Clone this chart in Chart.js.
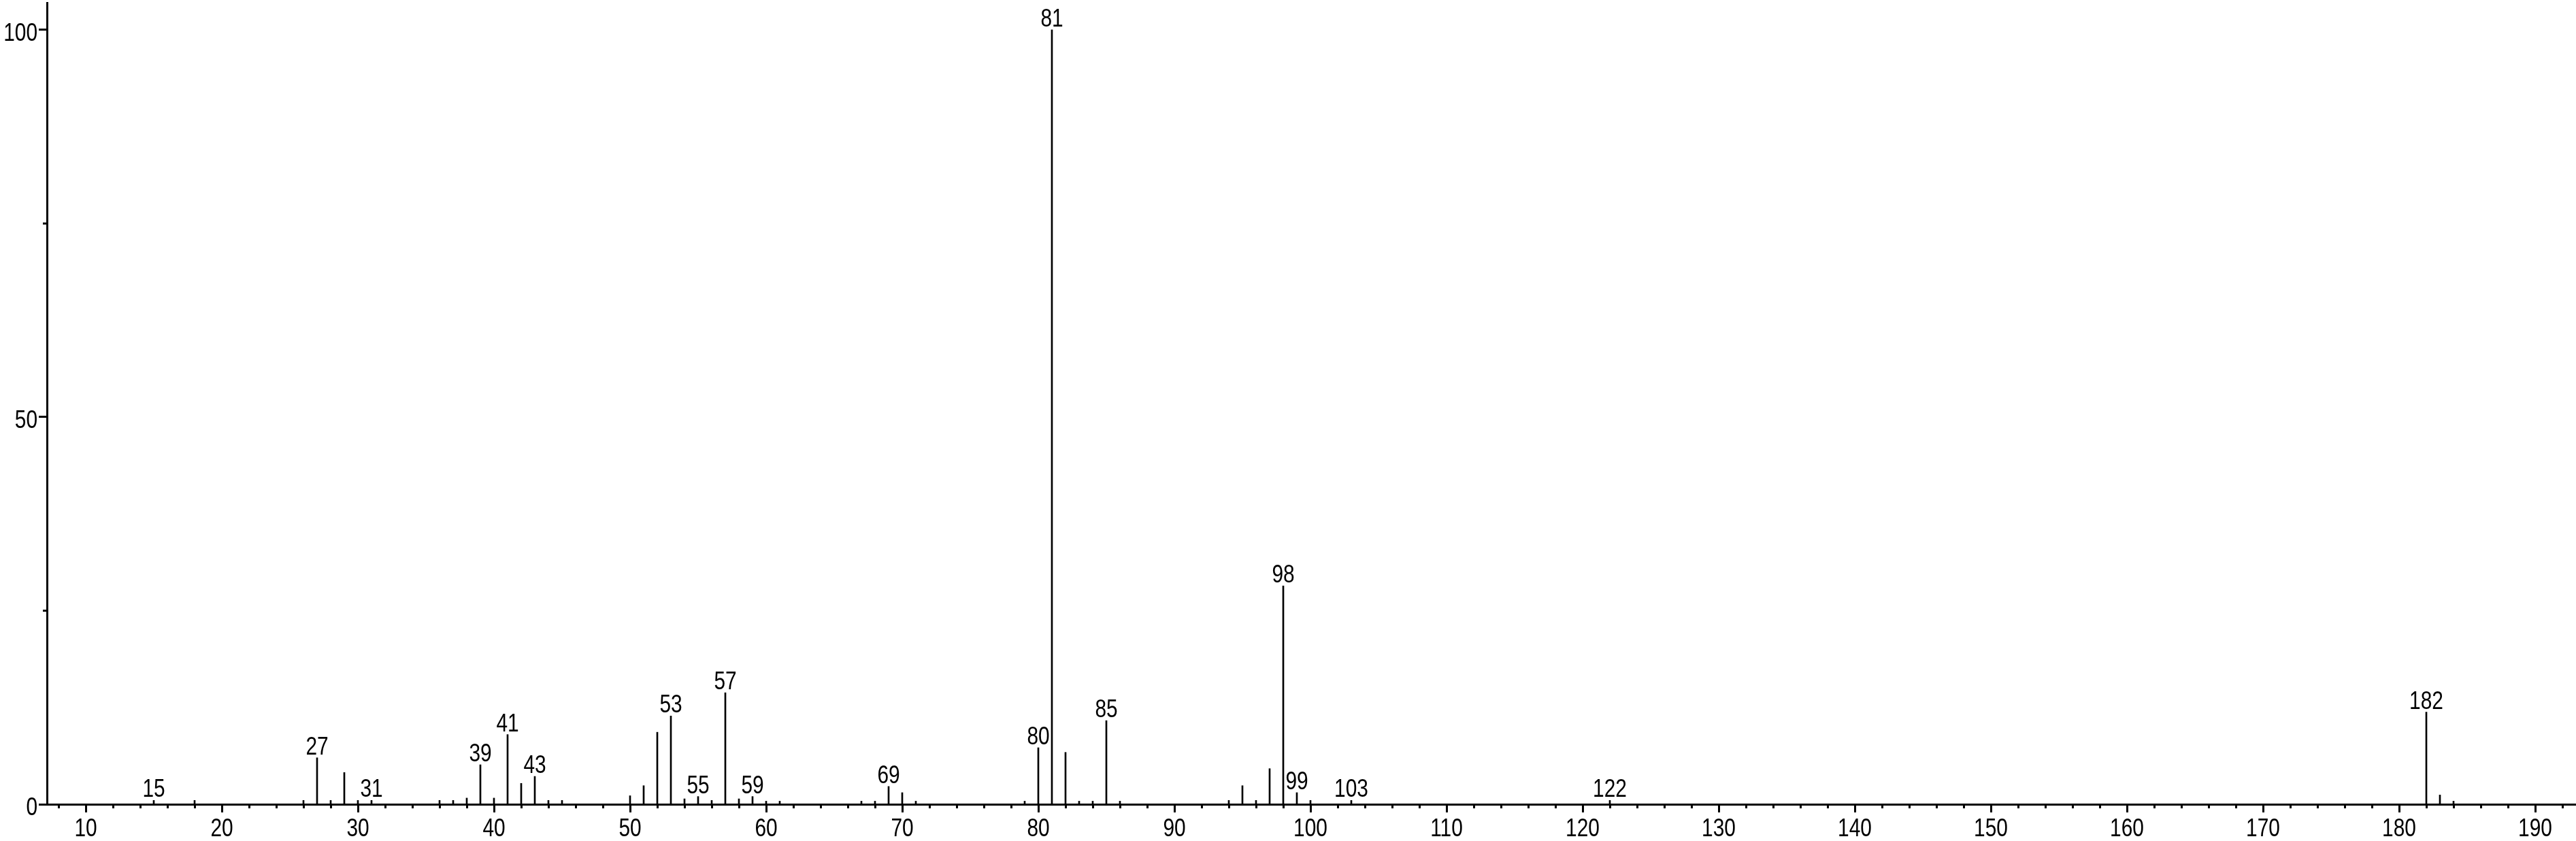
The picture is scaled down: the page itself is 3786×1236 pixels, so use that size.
<!DOCTYPE html>
<html>
<head>
<meta charset="utf-8">
<script src="https://cdn.jsdelivr.net/npm/chart.js@4/dist/chart.umd.min.js"></script>
<style>
  html, body { margin: 0; padding: 0; background: #fff; }
  canvas { display: block; }
</style>
</head>
<body>
<canvas id="c" width="3786" height="1236" style="width:3786px;height:1236px"></canvas>
<script>
// m/z values of the peaks
const mz = [15,18,26,27,28,29,30,31,36,37,38,39,40,41,42,43,44,45,50,51,52,53,54,55,56,57,58,59,60,61,67,68,69,70,71,79,80,81,82,83,84,85,86,94,95,96,97,98,99,100,103,122,182,183,184];
// relative intensities (%)
const intensity = [0.5,0.5,0.5,6.0,0.5,4.1,0.5,0.5,0.5,0.5,0.8,5.1,0.8,9.0,2.7,3.6,0.5,0.5,1.1,2.4,9.3,11.4,0.7,1.0,0.5,14.4,0.7,1.0,0.4,0.4,0.4,0.4,2.3,1.5,0.4,0.4,7.3,100,6.7,0.4,0.4,10.8,0.4,0.5,2.4,0.5,4.6,28.2,1.5,0.5,0.5,0.5,11.9,1.2,0.4];
// peaks that carry an m/z annotation
const labeledPeaks = [15,27,31,39,41,43,53,55,57,59,69,80,81,85,98,99,103,122,182];
// axis ticks
const xMajorTicks = [10,20,30,40,50,60,70,80,90,100,110,120,130,140,150,160,170,180,190];
const xMinorTicks = [8,12,14,16,18,22,24,26,28,32,34,36,38,42,44,46,48,52,54,56,58,62,64,66,68,72,74,76,78,82,84,86,88,92,94,96,98,102,104,106,108,112,114,116,118,122,124,126,128,132,134,136,138,142,144,146,148,152,154,156,158,162,164,166,168,172,174,176,178,182,184,186,188,192];
const yMajorTicks = [0,50,100];
const yMinorTicks = [25,75];

const FONT = '"Liberation Sans", Arial, sans-serif';
const FONT_SIZE = 36;
const NARROW = 0.83;   // horizontal squeeze to imitate a narrow sans face

const points = mz.map((m, i) => ({ x: m, y: intensity[i] }));

function narrowText(ctx, text, x, y, align) {
  ctx.save();
  ctx.translate(x, y);
  ctx.scale(NARROW, 1);
  ctx.textAlign = align;
  ctx.textBaseline = 'alphabetic';
  ctx.fillText(text, 0, 0);
  ctx.restore();
}

const axisTextPlugin = {
  id: 'axisText',
  afterDraw(chart) {
    const ctx = chart.ctx;
    const xs = chart.scales.x, ys = chart.scales.y;
    const area = chart.chartArea;
    ctx.save();
    // minor tick marks
    ctx.strokeStyle = '#000';
    ctx.lineWidth = 3;
    ctx.beginPath();
    xMinorTicks.forEach(v => {
      const px = Math.round(xs.getPixelForValue(v)) + 0.5;
      ctx.moveTo(px, area.bottom);
      ctx.lineTo(px, area.bottom + 6);
    });
    yMinorTicks.forEach(v => {
      const py = Math.round(ys.getPixelForValue(v)) + 0.5;
      ctx.moveTo(area.left, py);
      ctx.lineTo(area.left - 6, py);
    });
    ctx.stroke();
    // tick labels, taken from the scales' own ticks
    ctx.fillStyle = '#000';
    ctx.font = FONT_SIZE + 'px ' + FONT;
    xs.ticks.forEach(t => {
      narrowText(ctx, String(t.value), xs.getPixelForValue(t.value), area.bottom + 47, 'center');
    });
    ys.ticks.forEach(t => {
      narrowText(ctx, String(t.value), area.left - 14, ys.getPixelForValue(t.value) + 16, 'right');
    });
    ctx.restore();
  }
};

const peakLabelPlugin = {
  id: 'peakLabels',
  afterDatasetsDraw(chart) {
    const ctx = chart.ctx;
    const xs = chart.scales.x, ys = chart.scales.y;
    ctx.save();
    ctx.fillStyle = '#000';
    ctx.font = FONT_SIZE + 'px ' + FONT;
    labeledPeaks.forEach(m => {
      const i = mz.indexOf(m);
      if (i < 0) return;
      narrowText(ctx, String(m), xs.getPixelForValue(m), ys.getPixelForValue(intensity[i]) - 5, 'center');
    });
    ctx.restore();
  }
};

new Chart(document.getElementById('c'), {
  type: 'bar',
  data: {
    datasets: [{
      data: points,
      backgroundColor: '#000',
      borderWidth: 0,
      barThickness: 2,
      grouped: false
    }]
  },
  options: {
    responsive: false,
    animation: false,
    devicePixelRatio: 1,
    layout: { padding: { top: 4, right: 0, left: 0, bottom: 0 } },
    plugins: { legend: { display: false }, tooltip: { enabled: false } },
    scales: {
      x: {
        type: 'linear',
        offset: false,
        min: 7.15,
        max: 193,
        afterBuildTicks: s => { s.ticks = xMajorTicks.map(v => ({ value: v })); },
        afterFit: s => { s.height = 54; },
        grid: {
          offset: false,
          drawOnChartArea: false,
          drawTicks: true,
          tickLength: 12,
          tickWidth: 3,
          tickColor: '#000'
        },
        border: { display: true, color: '#000', width: 3 },
        ticks: { display: false, autoSkip: false }
      },
      y: {
        type: 'linear',
        min: 0,
        max: 103.5,
        afterBuildTicks: s => { s.ticks = yMajorTicks.map(v => ({ value: v })); },
        afterFit: s => { s.width = 69; },
        grid: {
          drawOnChartArea: false,
          drawTicks: true,
          tickLength: 12,
          tickWidth: 3,
          tickColor: '#000'
        },
        border: { display: true, color: '#000', width: 3 },
        ticks: { display: false, autoSkip: false }
      }
    }
  },
  plugins: [axisTextPlugin, peakLabelPlugin]
});
</script>
</body>
</html>
